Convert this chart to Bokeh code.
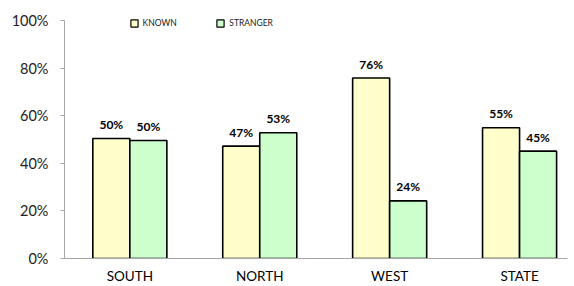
from bokeh.plotting import figure
from bokeh.models import ColumnDataSource, Range1d, FixedTicker, PrintfTickFormatter, LabelSet, Legend, LegendItem
from bokeh.core.properties import value
from bokeh.embed import file_html
from bokeh.resources import INLINE

regions = ["SOUTH", "NORTH", "WEST", "STATE"]
known = [50.4, 47.2, 75.8, 54.9]
stranger = [49.6, 52.8, 24.2, 45.1]
known_labels = ["50%", "47%", "76%", "55%"]
stranger_labels = ["50%", "53%", "24%", "45%"]
y_ticks = [0, 20, 40, 60, 80, 100]

FONT = "Lato"
BW = 0.285
KNOWN_COLOR = "#FFFFCC"
STRANGER_COLOR = "#CCFFCC"
NAN = float("nan")
xs = list(range(len(regions)))

src_k = ColumnDataSource(dict(x=[i - BW / 2 for i in xs], top=known, lab=known_labels))
src_s = ColumnDataSource(dict(x=[i + BW / 2 for i in xs], top=stranger, lab=stranger_labels))

p = figure(width=574, height=286, output_backend="svg", toolbar_location=None,
           x_range=Range1d(-0.503, 3.369), y_range=Range1d(0, 102.5),
           min_border_left=64, min_border_top=14, min_border_right=7, min_border_bottom=28)
p.outline_line_color = None
p.grid.visible = False

p.vbar(x="x", top="top", width=BW, source=src_k, fill_color=KNOWN_COLOR,
       line_color="#000000", line_width=1.6)
p.vbar(x="x", top="top", width=BW, source=src_s, fill_color=STRANGER_COLOR,
       line_color="#000000", line_width=1.6)

# legend proxies (a single NaN point each: nothing drawn, only legend swatches)
pk = p.scatter(x=[NAN], y=[NAN], marker="square", size=8, fill_color=KNOWN_COLOR,
               line_color="#000000", line_width=1.2)
ps = p.scatter(x=[NAN], y=[NAN], marker="square", size=8, fill_color=STRANGER_COLOR,
               line_color="#000000", line_width=1.2)

for src in (src_k, src_s):
    p.add_layout(LabelSet(x="x", y="top", text="lab", source=src, text_align="center",
                          text_baseline="middle", y_offset=14, text_font=value(FONT),
                          text_font_size="12px", text_font_style="bold", text_color="#000000"))

p.yaxis.ticker = FixedTicker(ticks=y_ticks)
p.yaxis.bounds = (0, 100)
p.yaxis.formatter = PrintfTickFormatter(format="%d%%")
p.yaxis.major_label_text_font = FONT
p.yaxis.major_label_text_font_size = "14.5px"
p.yaxis.major_label_text_color = "#222222"
p.yaxis.axis_line_color = "#A6A6A6"
p.yaxis.major_tick_line_color = "#A6A6A6"
p.yaxis.major_tick_out = 4
p.yaxis.major_tick_in = 0
p.yaxis.minor_tick_line_color = None
p.yaxis.major_label_standoff = 12

p.xaxis.ticker = FixedTicker(ticks=xs)
p.xaxis.major_label_overrides = {i: r for i, r in zip(xs, regions)}
p.xaxis.major_label_text_font = FONT
p.xaxis.major_label_text_font_size = "13.5px"
p.xaxis.major_label_text_color = "#000000"
p.xaxis.axis_line_color = "#A6A6A6"
p.xaxis.major_tick_line_color = None
p.xaxis.major_tick_out = 0
p.xaxis.major_tick_in = 0
p.xaxis.minor_tick_line_color = None
p.xaxis.major_label_standoff = 9
p.xaxis.axis_label_standoff = 0

LEG_Y = 226.3
for lab, rend, xpos in (("KNOWN", pk, 60.6), ("STRANGER", ps, 147.3)):
    lg = Legend(items=[LegendItem(label=lab, renderers=[rend])],
                orientation="horizontal", location=(xpos, LEG_Y),
                glyph_width=18, glyph_height=18, label_text_font=FONT,
                label_text_font_size="8.5px", label_standoff=-5, label_height=18,
                label_text_color="#222222",
                padding=0, margin=0, border_line_color=None, background_fill_alpha=0,
                label_text_baseline="middle")
    p.add_layout(lg, "center")

open("out.html", "w").write(file_html(p, INLINE))
